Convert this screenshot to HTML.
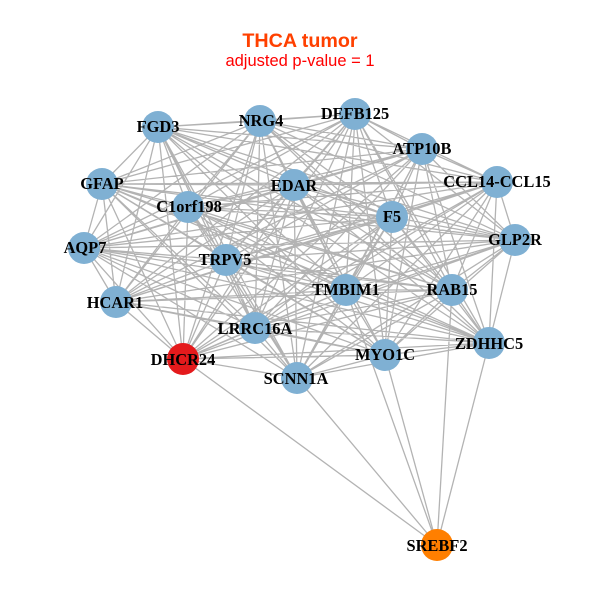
<!DOCTYPE html>
<html><head><meta charset="utf-8"><style>
html,body{margin:0;padding:0;background:#fff}
svg{display:block}
.n{font:bold 16.4px "Liberation Serif",serif;text-anchor:middle;fill:#000}
</style></head><body>
<svg width="600" height="600" viewBox="0 0 600 600" xmlns="http://www.w3.org/2000/svg">
<rect width="600" height="600" fill="#fff"/>
<path fill="none" stroke="#b3b3b3" stroke-width="1.3" stroke-linejoin="bevel" d="
M158 127 260 121 158 127 355 114 158 127 422 149 158 127 497 182 158 127 515 240 158 127 392 217 158 127 294 185 158 127 188 207 158 127 102 184 158 127 84 248 158 127 226 260 158 127 116 302 158 127 255 328 158 127 183 359 158 127 297 378 158 127 385 355 158 127 489 343 158 127 452 290 158 127 346 290
M260 121 355 114 260 121 422 149 260 121 497 182 260 121 515 240 260 121 392 217 260 121 294 185 260 121 188 207 260 121 102 184 260 121 84 248 260 121 226 260 260 121 116 302 260 121 255 328 260 121 183 359 260 121 297 378 260 121 385 355 260 121 489 343 260 121 452 290 260 121 346 290
M355 114 422 149 355 114 497 182 355 114 515 240 355 114 392 217 355 114 294 185 355 114 188 207 355 114 102 184 355 114 84 248 355 114 226 260 355 114 116 302 355 114 255 328 355 114 183 359 355 114 297 378 355 114 385 355 355 114 489 343 355 114 452 290 355 114 346 290
M422 149 497 182 422 149 515 240 422 149 392 217 422 149 294 185 422 149 188 207 422 149 102 184 422 149 84 248 422 149 226 260 422 149 116 302 422 149 255 328 422 149 183 359 422 149 297 378 422 149 385 355 422 149 489 343 422 149 452 290 422 149 346 290
M497 182 515 240 497 182 392 217 497 182 294 185 497 182 188 207 497 182 102 184 497 182 84 248 497 182 226 260 497 182 116 302 497 182 255 328 497 182 183 359 497 182 297 378 497 182 385 355 497 182 489 343 497 182 452 290 497 182 346 290
M515 240 392 217 515 240 294 185 515 240 188 207 515 240 102 184 515 240 84 248 515 240 226 260 515 240 116 302 515 240 255 328 515 240 183 359 515 240 297 378 515 240 385 355 515 240 489 343 515 240 452 290 515 240 346 290
M392 217 294 185 392 217 188 207 392 217 102 184 392 217 84 248 392 217 226 260 392 217 116 302 392 217 255 328 392 217 183 359 392 217 297 378 392 217 385 355 392 217 489 343 392 217 452 290 392 217 346 290
M294 185 188 207 294 185 102 184 294 185 84 248 294 185 226 260 294 185 116 302 294 185 255 328 294 185 183 359 294 185 297 378 294 185 385 355 294 185 489 343 294 185 452 290 294 185 346 290
M188 207 102 184 188 207 84 248 188 207 226 260 188 207 116 302 188 207 255 328 188 207 183 359 188 207 297 378 188 207 385 355 188 207 489 343 188 207 452 290 188 207 346 290
M102 184 84 248 102 184 226 260 102 184 116 302 102 184 255 328 102 184 183 359 102 184 297 378 102 184 385 355 102 184 489 343 102 184 452 290 102 184 346 290
M84 248 226 260 84 248 116 302 84 248 255 328 84 248 183 359 84 248 297 378 84 248 385 355 84 248 489 343 84 248 452 290 84 248 346 290
M226 260 116 302 226 260 255 328 226 260 183 359 226 260 297 378 226 260 385 355 226 260 489 343 226 260 452 290 226 260 346 290
M116 302 255 328 116 302 183 359 116 302 385 355 116 302 489 343 116 302 452 290 116 302 346 290
M255 328 183 359 255 328 297 378 255 328 385 355 255 328 489 343 255 328 452 290 255 328 346 290
M183 359 297 378 183 359 385 355 183 359 489 343 183 359 452 290 183 359 346 290
M297 378 385 355 297 378 489 343 297 378 452 290 297 378 346 290
M385 355 489 343 385 355 452 290 385 355 346 290
M489 343 452 290 489 343 346 290
M452 290 346 290
M437 545 183 359 M437 545 297 378 M437 545 255 328 M437 545 385 355 M437 545 346 290 M437 545 452 290 M437 545 489 343"/>
<g fill="#7fb0d3">
<circle cx="158" cy="127" r="16"/><circle cx="260" cy="121" r="16"/><circle cx="355" cy="114" r="16"/><circle cx="422" cy="149" r="16"/><circle cx="497" cy="182" r="16"/><circle cx="515" cy="240" r="16"/><circle cx="392" cy="217" r="16"/><circle cx="294" cy="185" r="16"/><circle cx="188" cy="207" r="16"/><circle cx="102" cy="184" r="16"/><circle cx="84" cy="248" r="16"/><circle cx="226" cy="260" r="16"/><circle cx="116" cy="302" r="16"/><circle cx="255" cy="328" r="16"/><circle cx="297" cy="378" r="16"/><circle cx="385" cy="355" r="16"/><circle cx="489" cy="343" r="16"/><circle cx="452" cy="290" r="16"/><circle cx="346" cy="290" r="16"/>
</g>
<circle cx="183" cy="359" r="16" fill="#e41a1c"/>
<circle cx="437" cy="545" r="16" fill="#ff7f00"/>
<g class="l">
<text class="n" x="158" y="132">FGD3</text>
<text class="n" x="261" y="126">NRG4</text>
<text class="n" x="355" y="119">DEFB125</text>
<text class="n" x="422" y="154">ATP10B</text>
<text class="n" x="497" y="187">CCL14-CCL15</text>
<text class="n" x="515" y="245">GLP2R</text>
<text class="n" x="392" y="222">F5</text>
<text class="n" x="294" y="191">EDAR</text>
<text class="n" x="189" y="212">C1orf198</text>
<text class="n" x="102" y="189">GFAP</text>
<text class="n" x="85" y="253">AQP7</text>
<text class="n" x="225" y="265">TRPV5</text>
<text class="n" x="115" y="308">HCAR1</text>
<text class="n" x="255" y="334">LRRC16A</text>
<text class="n" x="183" y="365">DHCR24</text>
<text class="n" x="296" y="384">SCNN1A</text>
<text class="n" x="385" y="360">MYO1C</text>
<text class="n" x="489" y="349">ZDHHC5</text>
<text class="n" x="452" y="295">RAB15</text>
<text class="n" x="346" y="295">TMBIM1</text>
<text class="n" x="437" y="551">SREBF2</text>
</g>
<text x="300" y="47" text-anchor="middle" style="font:bold 19.7px 'Liberation Sans',sans-serif" fill="#ff4000">THCA tumor</text>
<text x="300" y="66" text-anchor="middle" style="font:16.5px 'Liberation Sans',sans-serif" fill="#ff0000">adjusted p-value = 1</text>
</svg>
</body></html>
